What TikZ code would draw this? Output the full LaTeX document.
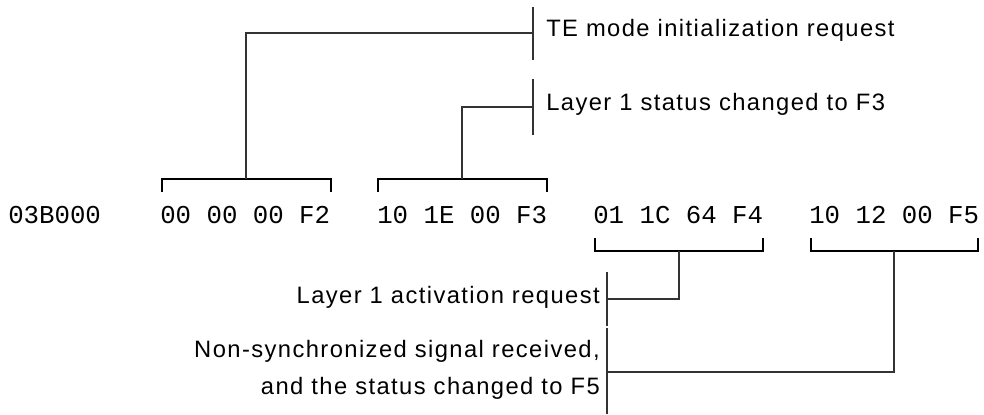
\documentclass[tikz,border=0pt]{standalone}
\usepackage{fontspec}
\newfontfamily\hexfam{Liberation Mono}
\newfontfamily\lblfam{Liberation Sans}[LetterSpace=6]
\newcommand\hexstyle{\hexfam\fontsize{19.3}{23}\selectfont}
\newcommand\lblstyle{\lblfam\fontsize{17.8}{24}\selectfont}
\definecolor{conn}{HTML}{333333}
\tikzset{
  hex/.style={font=\hexstyle, inner sep=0pt, anchor=base west},
  lbl/.style={font=\lblstyle, inner sep=0pt},
  brk/.style={line width=1.6pt, black},
  con/.style={line width=0.8pt, conn},
  bar/.style={line width=0.8pt, conn}
}
\begin{document}
\begin{tikzpicture}[x=0.75pt,y=-0.75pt]
\useasboundingbox (0,0) rectangle (984,414);
% hex row
\node[hex] (a0) at (8,223) {03B000};
\node[hex] (g1) at (160,223) {00 00 00 F2};
\node[hex] (g2) at (377,223) {10 1E 00 F3};
\node[hex] (g3) at (593,223) {01 1C 64 F4};
\node[hex] (g4) at (809,223) {10 12 00 F5};
% brackets
\draw[brk] (162,192) -- (162,179) -- (331,179) -- (331,192);
\draw[brk] (378,192) -- (378,179) -- (547,179) -- (547,192);
\draw[brk] (595,238) -- (595,251) -- (763,251) -- (763,238);
\draw[brk] (811,238) -- (811,251) -- (978,251) -- (978,238);
\coordinate (b1) at (246,179);
\coordinate (b2) at (462,179);
\coordinate (b3) at (679,251);
\coordinate (b4) at (894,251);
% upper labels
\draw[bar] (533,7) -- (533,60);
\draw[bar] (533,79) -- (533,135);
\coordinate (j1) at (533,33);
\coordinate (j2) at (533,107);
\node[lbl, anchor=west] (l1) at (546,30) {TE mode initialization request};
\node[lbl, anchor=west] (l2) at (546,104) {Layer 1 status changed to F3};
\draw[con] (b1) |- (j1);
\draw[con] (b2) |- (j2);
% lower labels
\draw[bar] (607,272) -- (607,326);
\draw[bar] (607,328) -- (607,414);
\coordinate (j3) at (607,299);
\coordinate (j4) at (607,372);
\node[lbl, anchor=east] (l3) at (600,297) {Layer 1 activation request};
\node[lbl, anchor=east, align=right] (l4) at (600,370) {Non-synchronized signal received,\\[4pt]and the status changed to F5};
\draw[con] (b3) |- (j3);
\draw[con] (b4) |- (j4);
\end{tikzpicture}
\end{document}
